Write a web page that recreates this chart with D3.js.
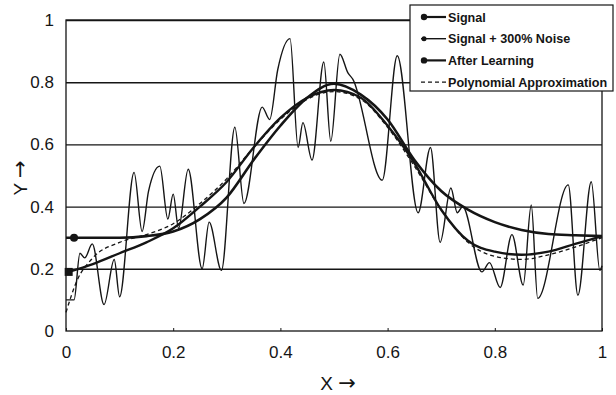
<!DOCTYPE html>
<html>
<head>
<meta charset="utf-8">
<script src="https://cdn.jsdelivr.net/npm/d3@7"></script>
<style>
  body { margin: 0; background: white; }
  svg { display: block; }
</style>
</head>
<body>
<div id="viz-container"></div>
<script>
let svgWidth = 616;
let svgHeight = 395;

// data
let xTicks = [0, 0.2, 0.4, 0.6, 0.8, 1];
let yTicks = [0, 0.2, 0.4, 0.6, 0.8, 1];
let legendNames = ["Signal", "Signal + 300% Noise", "After Learning", "Polynomial Approximation"];

let signal = [
  [0, 0.30], [0.015, 0.30], [0.05, 0.30], [0.1, 0.30], [0.15, 0.305], [0.2, 0.32],
  [0.25, 0.36], [0.3, 0.43], [0.35, 0.55], [0.4, 0.66], [0.45, 0.75], [0.5, 0.795],
  [0.55, 0.76], [0.6, 0.68], [0.65, 0.55], [0.7, 0.45], [0.75, 0.39], [0.8, 0.35],
  [0.85, 0.325], [0.9, 0.312], [0.95, 0.308], [1, 0.305]
];

let noisy = [
  [0, 0.10], [0.015, 0.10], [0.026, 0.25], [0.035, 0.235], [0.049, 0.28], [0.071, 0.085],
  [0.09, 0.23], [0.10, 0.11], [0.127, 0.51], [0.142, 0.32], [0.154, 0.45], [0.175, 0.53],
  [0.19, 0.36], [0.2, 0.44], [0.21, 0.33], [0.228, 0.52], [0.254, 0.20], [0.267, 0.35],
  [0.29, 0.195], [0.315, 0.655], [0.332, 0.41], [0.366, 0.72], [0.38, 0.68], [0.395, 0.84],
  [0.418, 0.94], [0.433, 0.59], [0.442, 0.67], [0.459, 0.55], [0.481, 0.865], [0.494, 0.61],
  [0.511, 0.89], [0.526, 0.83], [0.535, 0.81], [0.59, 0.485], [0.618, 0.885], [0.657, 0.38],
  [0.68, 0.59], [0.698, 0.285], [0.718, 0.46], [0.73, 0.38], [0.74, 0.40], [0.776, 0.19],
  [0.79, 0.22], [0.81, 0.14], [0.832, 0.31], [0.853, 0.148], [0.868, 0.405], [0.88, 0.105],
  [0.937, 0.47], [0.955, 0.115], [0.98, 0.48], [0.996, 0.195], [1, 0.21]
];

let learned = [
  [0.005, 0.19], [0.05, 0.215], [0.1, 0.25], [0.15, 0.285], [0.2, 0.33], [0.25, 0.40],
  [0.3, 0.48], [0.35, 0.59], [0.4, 0.685], [0.45, 0.75], [0.5, 0.775], [0.55, 0.75],
  [0.6, 0.66], [0.65, 0.54], [0.7, 0.39], [0.75, 0.29], [0.8, 0.255], [0.85, 0.245],
  [0.9, 0.255], [0.95, 0.28], [1, 0.305]
];

let poly = [
  [0, 0.06], [0.02, 0.16], [0.05, 0.235], [0.1, 0.285], [0.15, 0.31], [0.2, 0.345],
  [0.25, 0.41], [0.3, 0.49], [0.35, 0.59], [0.4, 0.68], [0.45, 0.745], [0.5, 0.77],
  [0.55, 0.745], [0.6, 0.655], [0.65, 0.53], [0.7, 0.39], [0.75, 0.285], [0.8, 0.24],
  [0.85, 0.23], [0.9, 0.245], [0.95, 0.27], [1, 0.30]
];

let ink = "#151515";
let fontFam = "Liberation Sans, Arial, sans-serif";

let viz = d3.select("#viz-container")
  .append("svg")
    .attr("width", svgWidth)
    .attr("height", svgHeight)
    .style("background-color", "white")
    ;

let x = d3.scaleLinear().domain([0, 1]).range([66, 602]);
let y = d3.scaleLinear().domain([0, 1]).range([331, 20]);

// horizontal grid
let grid = viz.append("g")
  .attr("transform", "translate(" + x(0) + ",0)")
  .call(d3.axisLeft(y).tickValues(yTicks.slice(1)).tickSize(-(x(1) - x(0))).tickFormat(""))
  ;
grid.select(".domain").remove();
grid.selectAll("line").attr("stroke", ink).attr("stroke-width", 1.4);

// plot frame
viz.append("rect")
  .attr("x", x(0))
  .attr("y", y(1))
  .attr("width", x(1) - x(0))
  .attr("height", y(0) - y(1))
  .attr("fill", "none")
  .attr("stroke", ink)
  .attr("stroke-width", 1.3)
  ;

// axes labels
let xAxis = viz.append("g")
  .attr("transform", "translate(0," + y(0) + ")")
  .call(d3.axisBottom(x).tickValues(xTicks).tickSize(-3).tickPadding(15).tickFormat(d3.format("")))
  ;
xAxis.select(".domain").remove();
xAxis.selectAll("line").attr("stroke", ink);
xAxis.selectAll("text")
  .attr("font-family", fontFam)
  .attr("font-size", 17)
  .attr("fill", ink)
  ;

let yAxis = viz.append("g")
  .attr("transform", "translate(" + x(0) + ",0)")
  .call(d3.axisLeft(y).tickValues(yTicks).tickSize(0).tickPadding(12).tickFormat(d3.format("")))
  ;
yAxis.select(".domain").remove();
yAxis.selectAll("text")
  .attr("font-family", fontFam)
  .attr("font-size", 17)
  .attr("fill", ink)
  ;

let xLabel = viz.append("text")
  .attr("x", 338)
  .attr("y", 390)
  .attr("text-anchor", "middle")
  .attr("font-family", fontFam)
  .attr("font-size", 19)
  .attr("fill", ink)
  ;
xLabel.append("tspan").text("X ");
xLabel.append("tspan").text("\u2192").attr("font-family", "DejaVu Sans").attr("font-size", 21);

let yLabel = viz.append("text")
  .attr("transform", "translate(27,178) rotate(-90)")
  .attr("text-anchor", "middle")
  .attr("font-family", fontFam)
  .attr("font-size", 19)
  .attr("fill", ink)
  ;
yLabel.append("tspan").text("Y ");
yLabel.append("tspan").text("\u2192").attr("font-family", "DejaVu Sans").attr("font-size", 21);

// lines
let line = d3.line()
  .x(function(d){ return x(d[0]); })
  .y(function(d){ return y(d[1]); })
  .curve(d3.curveMonotoneX)
  ;

viz.append("path")
  .datum(noisy)
  .attr("d", line)
  .attr("fill", "none")
  .attr("stroke", ink)
  .attr("stroke-width", 1.4)
  ;

viz.append("path")
  .datum(poly)
  .attr("d", line)
  .attr("fill", "none")
  .attr("stroke", ink)
  .attr("stroke-width", 1.3)
  .attr("stroke-dasharray", "4,3")
  ;

viz.append("path")
  .datum(learned)
  .attr("d", line)
  .attr("fill", "none")
  .attr("stroke", ink)
  .attr("stroke-width", 2.4)
  ;

viz.append("path")
  .datum(signal)
  .attr("d", line)
  .attr("fill", "none")
  .attr("stroke", ink)
  .attr("stroke-width", 2.6)
  ;

// start markers
viz.append("circle")
  .attr("cx", x(signal[1][0]))
  .attr("cy", y(signal[1][1]))
  .attr("r", 4)
  .attr("fill", ink)
  ;
viz.append("rect")
  .attr("x", x(learned[0][0]) - 4)
  .attr("y", y(learned[0][1]) - 4)
  .attr("width", 8)
  .attr("height", 8)
  .attr("fill", ink)
  ;

// legend
let legend = viz.append("g")
  .attr("transform", "translate(410,5)")
  ;
legend.append("rect")
  .attr("x", 0)
  .attr("y", 0)
  .attr("width", 203)
  .attr("height", 86)
  .attr("fill", "white")
  .attr("stroke", ink)
  .attr("stroke-width", 1.2)
  ;

let rows = legend.selectAll(".legendRow").data(legendNames).enter()
  .append("g")
  .attr("class", "legendRow")
  .attr("transform", function(d, i){ return "translate(0," + (12 + i * 21.7) + ")"; })
  ;

rows.append("line")
  .attr("x1", 11)
  .attr("x2", 36)
  .attr("y1", 0)
  .attr("y2", 0)
  .attr("stroke", ink)
  .attr("stroke-width", function(d, i){ return i == 1 ? 1.4 : (i == 3 ? 1.3 : 2.2); })
  .attr("stroke-dasharray", function(d, i){ return i == 3 ? "4,3" : null; })
  ;

rows.filter(function(d, i){ return i != 3; })
  .append("circle")
  .attr("cx", 14)
  .attr("cy", 0)
  .attr("r", function(d, i){ return i == 1 ? 2.5 : 3.2; })
  .attr("fill", ink)
  ;

rows.append("text")
  .text(function(d){ return d; })
  .attr("x", 38)
  .attr("y", 4.5)
  .attr("font-family", fontFam)
  .attr("font-weight", "bold")
  .attr("font-size", 12.6)
  .attr("fill", ink)
  ;
</script>
</body>
</html>
